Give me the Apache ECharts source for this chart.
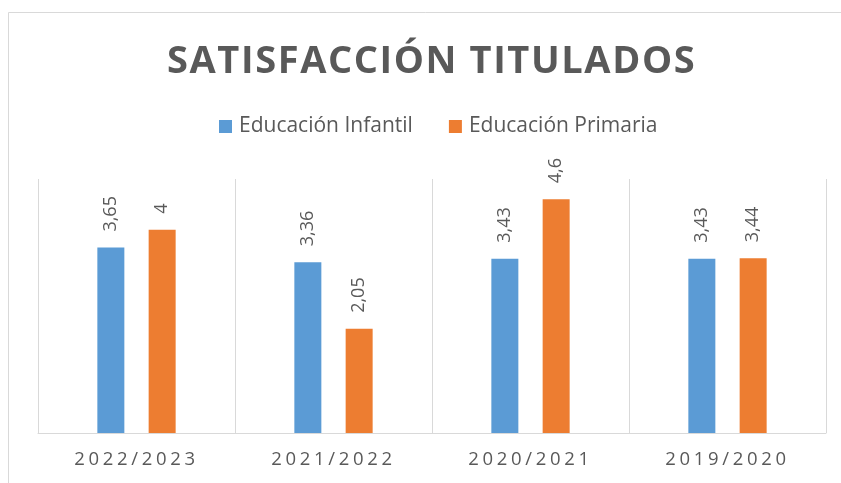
<!DOCTYPE html>
<html>
<head>
<meta charset="utf-8">
<script src="https://cdn.jsdelivr.net/npm/echarts@6/dist/echarts.min.js"></script>
<style>
  html, body { margin: 0; padding: 0; background: #fff; }
  #chart { width: 841px; height: 483px; }
</style>
</head>
<body>
<div id="chart"></div>
<script>
var cursos = ['2022/2023', '2021/2022', '2020/2021', '2019/2020'];
var infantil = [3.65, 3.36, 3.43, 3.43];
var primaria = [4, 2.05, 4.6, 3.44];
var titulo = 'SATISFACCIÓN TITULADOS';

var gris = '#595959';
var fuente = '"Open Sans", "Noto Sans", sans-serif';
var hair = '\u200A';

// espaciado entre letras: rich text con un espacio fino pequeño
function espaciarRich(s) {
    return s.split('').map(function (c) { return '{t|' + c + '}'; }).join('{s|' + hair + '}');
}

function coma(p) {
    return String(p.value).replace('.', ',');
}

var etiqueta = {
    show: true,
    position: 'top',
    rotate: 90,
    align: 'left',
    verticalAlign: 'middle',
    distance: 16,
    color: gris,
    fontFamily: fuente,
    fontSize: 18,
    formatter: coma
};

var myChart = echarts.init(document.getElementById('chart'));
var option = {
    backgroundColor: '#fff',
    animation: false,
    graphic: [{
        type: 'rect',
        shape: { x: 8.5, y: 12.5, width: 860, height: 500 },
        style: { fill: 'none', stroke: '#d9d9d9', lineWidth: 1 },
        silent: true
    }],
    title: {
        text: espaciarRich(titulo),
        left: 162,
        top: 38,
        textStyle: {
            rich: {
                t: { color: gris, fontFamily: fuente, fontWeight: 'bold', fontSize: 38 },
                s: { fontFamily: fuente, fontSize: 16 }
            }
        }
    },
    legend: {
        top: 111,
        left: 214,
        itemWidth: 13,
        itemHeight: 13,
        itemGap: 36,
        icon: 'rect',
        textStyle: { color: gris, fontFamily: fuente, fontSize: 21, padding: [0, 0, 0, 2] },
        data: ['Educación Infantil', 'Educación Primaria']
    },
    grid: { left: 38, right: 15, top: 179, bottom: 50 },
    xAxis: {
        type: 'category',
        data: cursos,
        axisTick: { show: false },
        axisLine: { lineStyle: { color: '#d9d9d9', width: 1 } },
        splitLine: { show: true, lineStyle: { color: '#d9d9d9', width: 1 } },
        axisLabel: {
            color: gris,
            fontFamily: fuente,
            fontSize: 18.5,
            margin: 17,
            formatter: function (v) { return v.split('').join(hair + hair) + hair + hair; }
        }
    },
    yAxis: {
        type: 'value',
        min: 0,
        max: 5,
        show: false,
        splitLine: { show: false }
    },
    series: [{
        name: 'Educación Infantil',
        type: 'bar',
        data: infantil,
        barWidth: 27,
        barGap: '90%',
        itemStyle: { color: '#5b9bd5' },
        label: etiqueta
    }, {
        name: 'Educación Primaria',
        type: 'bar',
        data: primaria,
        barWidth: 27,
        itemStyle: { color: '#ed7d31' },
        label: etiqueta
    }]
};
myChart.setOption(option);
</script>
</body>
</html>
